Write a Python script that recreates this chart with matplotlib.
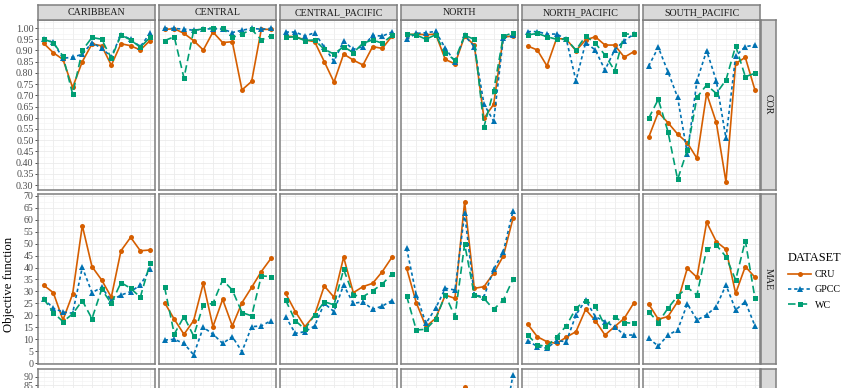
import numpy as np
import matplotlib.pyplot as plt
from matplotlib.ticker import MultipleLocator, FixedLocator, FormatStrFormatter

plt.rcParams['font.family'] = ['Liberation Serif', 'DejaVu Serif']

regions = ['CARIBBEAN', 'CENTRAL', 'CENTRAL_PACIFIC', 'NORTH', 'NORTH_PACIFIC', 'SOUTH_PACIFIC']
months = np.arange(1, 13)
datasets = ['CRU', 'GPCC', 'WC']

# COR, one list of 12 months per region (same order as regions)
cor_cru = [
    [0.932, 0.890, 0.860, 0.735, 0.850, 0.929, 0.921, 0.834, 0.930, 0.921, 0.902, 0.944],
    [0.994, 0.997, 0.976, 0.944, 0.902, 0.982, 0.935, 0.939, 0.724, 0.762, 0.994, 0.994],
    [0.964, 0.961, 0.947, 0.939, 0.850, 0.759, 0.884, 0.857, 0.835, 0.917, 0.909, 0.964],
    [0.970, 0.973, 0.970, 0.973, 0.860, 0.840, 0.964, 0.924, 0.597, 0.660, 0.960, 0.964],
    [0.920, 0.902, 0.831, 0.954, 0.950, 0.899, 0.947, 0.961, 0.924, 0.924, 0.870, 0.895],
    [0.512, 0.624, 0.578, 0.527, 0.488, 0.419, 0.708, 0.579, 0.314, 0.842, 0.869, 0.723],
]
cor_gpcc = [
    [0.950, 0.936, 0.865, 0.870, 0.883, 0.935, 0.910, 0.872, 0.970, 0.950, 0.917, 0.976],
    [0.998, 0.998, 0.995, 0.990, 0.995, 0.997, 0.995, 0.980, 0.990, 0.998, 0.995, 0.998],
    [0.982, 0.982, 0.964, 0.979, 0.914, 0.852, 0.941, 0.905, 0.917, 0.967, 0.964, 0.982],
    [0.950, 0.976, 0.979, 0.985, 0.910, 0.850, 0.967, 0.917, 0.660, 0.585, 0.955, 0.967],
    [0.984, 0.984, 0.973, 0.973, 0.950, 0.765, 0.935, 0.902, 0.813, 0.902, 0.944, 0.973],
    [0.830, 0.914, 0.805, 0.691, 0.440, 0.765, 0.899, 0.765, 0.508, 0.875, 0.917, 0.924],
]
cor_wc = [
    [0.950, 0.935, 0.875, 0.706, 0.900, 0.958, 0.950, 0.865, 0.969, 0.947, 0.914, 0.958],
    [0.944, 0.961, 0.777, 0.988, 0.997, 1.000, 1.000, 0.958, 0.973, 0.994, 0.947, 0.966],
    [0.958, 0.961, 0.944, 0.947, 0.905, 0.884, 0.917, 0.890, 0.932, 0.947, 0.932, 0.967],
    [0.973, 0.969, 0.950, 0.970, 0.887, 0.858, 0.967, 0.950, 0.560, 0.720, 0.964, 0.978],
    [0.969, 0.976, 0.961, 0.950, 0.950, 0.902, 0.964, 0.932, 0.880, 0.810, 0.973, 0.973],
    [0.597, 0.682, 0.538, 0.325, 0.455, 0.691, 0.746, 0.708, 0.768, 0.920, 0.783, 0.798],
]

# MAE
mae_cru = [
    [32.6, 29.5, 18.1, 28.9, 57.5, 40.4, 34.8, 27.6, 47.0, 52.6, 47.0, 47.3],
    [25.3, 18.4, 12.1, 17.8, 33.4, 15.3, 26.7, 15.6, 25.3, 31.7, 38.3, 43.8],
    [29.2, 21.6, 15.3, 20.2, 32.3, 27.6, 44.3, 29.5, 32.0, 33.4, 38.3, 44.3],
    [39.7, 25.3, 15.3, 18.8, 28.5, 27.1, 67.5, 31.3, 32.0, 37.6, 44.8, 60.5],
    [16.4, 11.1, 9.0, 8.3, 10.9, 13.2, 22.5, 17.8, 11.8, 15.3, 18.8, 25.3],
    [24.8, 18.4, 19.5, 25.7, 39.7, 35.9, 58.9, 50.8, 47.6, 29.2, 40.4, 35.9],
]
mae_gpcc = [
    [27.0, 23.0, 21.4, 20.9, 40.1, 29.5, 31.7, 26.2, 28.5, 29.9, 32.7, 39.2],
    [9.7, 10.0, 8.3, 3.5, 15.0, 12.2, 8.3, 11.1, 4.9, 15.3, 15.6, 17.8],
    [19.5, 12.5, 13.2, 15.6, 25.0, 21.6, 32.7, 25.0, 25.7, 22.5, 23.9, 26.2],
    [48.0, 28.5, 16.7, 23.0, 31.3, 30.6, 62.6, 28.5, 27.8, 39.2, 46.6, 63.7],
    [9.5, 7.0, 6.3, 9.5, 9.0, 20.2, 26.4, 19.5, 17.4, 15.3, 11.8, 11.8],
    [10.4, 7.2, 11.8, 13.9, 24.8, 18.1, 20.2, 23.7, 32.7, 22.3, 25.7, 15.6],
]
mae_wc = [
    [27.0, 21.2, 17.4, 20.6, 26.2, 18.6, 30.9, 25.0, 33.7, 31.3, 27.6, 41.7],
    [31.7, 12.2, 19.5, 11.4, 24.4, 25.0, 34.8, 30.6, 21.2, 19.8, 36.5, 36.2],
    [26.4, 17.8, 14.2, 20.2, 25.7, 24.4, 39.2, 28.5, 27.8, 30.3, 33.1, 37.3],
    [28.1, 13.9, 14.2, 18.4, 28.5, 19.5, 49.8, 28.5, 27.1, 22.5, 26.4, 35.1],
    [11.8, 7.7, 7.0, 11.1, 15.6, 23.0, 26.2, 23.9, 15.6, 19.2, 17.0, 16.7],
    [21.6, 17.0, 23.0, 28.1, 31.7, 28.5, 47.6, 49.4, 44.5, 34.8, 51.2, 27.1],
]

# third metric row: only the top of it is inside the picture (NORTH peaks)
row3_north_cru = [45.0, 30.0, 20.0, 24.0, 36.0, 34.0, 84.0, 40.0, 41.0, 48.0, 57.0, 76.0]
row3_north_gpcc = [58.0, 36.0, 22.0, 29.0, 40.0, 39.0, 78.0, 37.0, 36.0, 50.0, 60.0, 91.0]
row3_ticks = [85, 90]

colors = {'CRU': '#D55E00', 'GPCC': '#0072B2', 'WC': '#009E73'}
styles = {'CRU': '-', 'GPCC': (0, (2.0, 1.7)), 'WC': (0, (4.5, 2.5))}
markers = {'CRU': 'o', 'GPCC': '^', 'WC': 's'}
msizes = {'CRU': 3.6, 'GPCC': 4.2, 'WC': 3.6}

W, H = 850, 388
fig = plt.figure(figsize=(W / 100, H / 100), dpi=100)

col_left = [38.3 + 121.0 * k for k in range(6)]
panel_w = 117.0
row_top = [19.5, 194.0, 368.5]
panel_h = 170.0
border_col = '#7F7F7F'


def px_axes(x, y, w, h):
    return fig.add_axes([x / W, 1 - (y + h) / H, w / W, h / H])


row_data = [
    {'CRU': cor_cru, 'GPCC': cor_gpcc, 'WC': cor_wc},
    {'CRU': mae_cru, 'GPCC': mae_gpcc, 'WC': mae_wc},
]
row_ylim = [(0.280, 1.038), (-0.3, 70.7), (-4.0, 94.7)]
row_major = [0.05, 5, 5]
row_fmt = ['%.2f', '%d', '%d']
row_labels = ['COR', 'MAE', '']

handles = {}
for r in range(3):
    for c, reg in enumerate(regions):
        ax = px_axes(col_left[c], row_top[r], panel_w, panel_h)
        ax.set_xlim(0.45, 12.55)
        ax.set_ylim(*row_ylim[r])
        if r < 2:
            ax.yaxis.set_major_locator(MultipleLocator(row_major[r]))
            ax.yaxis.set_minor_locator(MultipleLocator(row_major[r] / 2))
        else:
            # only the ticks that fall inside the picture
            ax.yaxis.set_major_locator(FixedLocator(row3_ticks))
            ax.yaxis.set_minor_locator(FixedLocator([t + 2.5 for t in row3_ticks]))
        ax.xaxis.set_major_locator(MultipleLocator(2))
        ax.xaxis.set_minor_locator(MultipleLocator(1))
        ax.grid(which='major', color='#EBEBEB', lw=0.6, zorder=0)
        ax.grid(which='minor', color='#F2F2F2', lw=0.4, zorder=0)
        ax.set_axisbelow(True)
        for sp in ax.spines.values():
            sp.set_color(border_col)
            sp.set_linewidth(1.1)
        ax.tick_params(axis='x', which='both', length=0, labelbottom=False)
        ax.tick_params(axis='y', which='minor', length=0)
        if c == 0:
            ax.yaxis.set_major_formatter(FormatStrFormatter(row_fmt[r]))
            ax.tick_params(axis='y', which='major', length=2.2, width=0.6, color='#333333',
                           labelsize=7.2, labelcolor='#4D4D4D', pad=1.2)
        else:
            ax.tick_params(axis='y', which='major', length=0, labelleft=False)

        if r < 2:
            for ds in datasets:
                ln, = ax.plot(months, row_data[r][ds][c], color=colors[ds], ls=styles[ds], lw=1.2,
                              marker=markers[ds], ms=msizes[ds], markeredgewidth=0, zorder=3,
                              dash_capstyle='butt')
                handles[ds] = ln
        elif reg == 'NORTH':
            ax.plot(months, row3_north_cru, color=colors['CRU'], ls=styles['CRU'], lw=1.2,
                    marker='o', ms=3.6, markeredgewidth=0, zorder=3)
            ax.plot(months, row3_north_gpcc, color=colors['GPCC'], ls=styles['GPCC'], lw=1.2,
                    marker='^', ms=4.2, markeredgewidth=0, zorder=3)

        # top strips
        if r == 0:
            sax = px_axes(col_left[c], 4.5, panel_w, 15.0)
            sax.set_facecolor('#D9D9D9')
            sax.set_xticks([])
            sax.set_yticks([])
            for sp in sax.spines.values():
                sp.set_color(border_col)
                sp.set_linewidth(1.1)
            sax.text(0.5, 0.45, reg, transform=sax.transAxes, ha='center', va='center',
                     fontsize=7.2, color='#1A1A1A')

    # right strips
    rax = px_axes(760.5, row_top[r], 15.0, panel_h)
    rax.set_facecolor('#D9D9D9')
    rax.set_xticks([])
    rax.set_yticks([])
    for sp in rax.spines.values():
        sp.set_color(border_col)
        sp.set_linewidth(1.1)
    if row_labels[r]:
        rax.text(0.5, 0.5, row_labels[r], transform=rax.transAxes, ha='center', va='center',
                 rotation=-90, fontsize=7.2, color='#1A1A1A')

fig.text(9.5 / W, 1 - 284 / H, 'Objective function', rotation=90, ha='center', va='center',
         fontsize=9.2, color='black')

leg = fig.legend([handles[d] for d in datasets], datasets, title='DATASET',
                 loc='upper left', bbox_to_anchor=(781 / W, 1 - 245 / H), frameon=False,
                 fontsize=7.2, title_fontsize=8.8, handlelength=2.3, handletextpad=0.4,
                 labelspacing=0.62, alignment='left', borderpad=0.2)

fig.savefig('out.png', dpi=100)
